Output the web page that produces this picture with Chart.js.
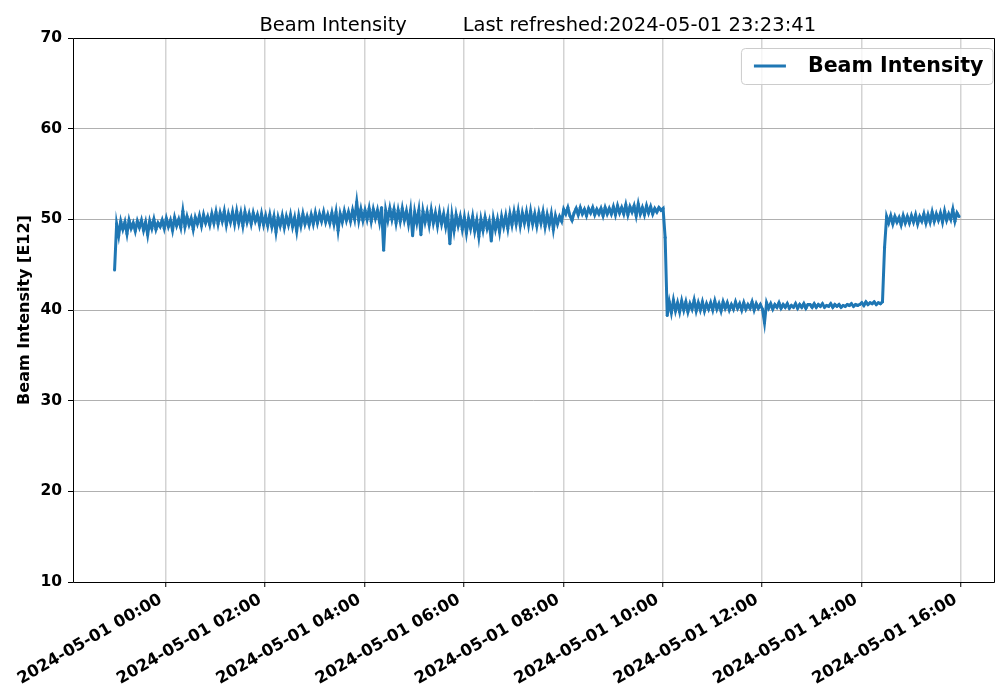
<!DOCTYPE html>
<html>
<head>
<meta charset="utf-8">
<script src="https://cdn.jsdelivr.net/npm/chart.js@4.4.0/dist/chart.umd.min.js"></script>
<style>
  body { margin: 0; background: #fff; }
  #grafico { display: block; }
</style>
</head>
<body>
<canvas id="grafico" width="996" height="687"></canvas>
<script>
// hours relative to 2024-05-01 00:00, samples every 2.5 min starting 2024-04-30 22:58
const startHour = -62 / 60;
const stepMinutes = 2.5;
const tickHours = [0, 2, 4, 6, 8, 10, 12, 14, 16];
const yTicks = [10, 20, 30, 40, 50, 60, 70];

// one row per hour (24 samples)
const beamIntensity = [
  44.4, 49.5, 48.2, 49.8, 48.9, 49.7, 48.4, 49.9, 49.0, 49.6, 48.7, 49.8, 49.1, 49.9, 48.8, 49.7, 48.3, 49.8, 49.0, 50.0, 48.9, 49.6, 49.2, 49.9,
  49.0, 50.1, 49.2, 49.9, 48.8, 50.2, 49.3, 50.0, 49.1, 50.9, 49.2, 50.3, 49.4, 50.1, 48.9, 50.2, 49.5, 50.4, 49.3, 50.5, 49.6, 50.3, 49.4, 50.6,
  49.6, 50.8, 49.5, 50.7, 49.8, 50.9, 49.4, 50.6, 49.7, 50.8, 49.5, 50.9, 49.6, 50.7, 49.3, 50.8, 49.7, 50.6, 49.5, 50.7, 49.8, 50.5, 49.4, 50.6,
  49.4, 50.4, 49.3, 50.5, 49.2, 50.3, 48.6, 50.2, 49.3, 50.4, 49.1, 50.3, 49.4, 50.5, 49.2, 50.2, 48.7, 50.4, 49.3, 50.6, 49.5, 50.3, 49.4, 50.5,
  49.5, 50.7, 49.6, 50.6, 49.8, 50.8, 49.7, 50.5, 49.6, 50.7, 49.5, 50.8, 48.8, 50.6, 49.7, 50.9, 49.9, 50.8, 49.8, 51.0, 50.0, 51.9, 49.9, 51.1,
  49.9, 51.0, 50.0, 51.2, 49.8, 51.1, 50.1, 51.0, 49.7, 51.3, 46.6, 51.0, 49.9, 51.2, 50.0, 51.1, 49.6, 51.0, 49.8, 51.2, 49.9, 50.9, 49.5, 51.0,
  48.2, 50.8, 49.6, 51.0, 48.3, 50.9, 49.7, 50.8, 49.4, 51.0, 49.6, 50.7, 49.3, 50.8, 49.5, 50.6, 49.2, 50.5, 47.3, 50.4, 48.8, 50.5, 49.3, 50.3,
  48.9, 50.2, 48.5, 50.1, 49.0, 50.3, 48.7, 49.9, 48.1, 50.0, 48.8, 50.2, 49.0, 49.8, 47.6, 50.1, 48.9, 50.0, 48.6, 50.3, 49.2, 50.4, 49.0, 50.6,
  49.4, 50.8, 49.5, 50.9, 49.3, 50.7, 49.6, 50.8, 49.4, 50.9, 49.5, 50.6, 49.3, 50.7, 49.6, 50.8, 49.2, 50.5, 49.4, 50.6, 48.9, 50.4, 49.5, 50.3,
  49.8, 51.1, 50.6, 51.3, 50.4, 49.9, 50.7, 51.2, 50.5, 51.3, 50.6, 51.1, 50.4, 51.2, 50.7, 51.3, 50.5, 51.1, 50.6, 51.2, 50.4, 51.3, 50.6, 51.2,
  50.6, 51.4, 50.5, 51.5, 50.7, 51.3, 50.6, 51.6, 50.5, 51.4, 50.8, 51.5, 50.4, 51.7, 50.6, 51.3, 50.5, 51.5, 50.7, 51.4, 50.6, 51.2, 50.8, 51.3,
  51.0, 51.2, 48.0, 39.4, 40.9, 39.7, 41.1, 39.9, 40.8, 39.8, 41.0, 40.0, 40.9, 39.8, 40.7, 40.1, 41.1, 39.9, 40.8, 40.0, 40.9, 39.9, 40.7, 40.1,
  40.8, 40.0, 41.0, 40.1, 40.7, 39.9, 40.9, 40.2, 40.8, 40.0, 40.6, 40.1, 40.9, 40.2, 40.7, 40.0, 40.8, 40.1, 40.6, 40.2, 40.9, 40.0, 40.7, 40.2,
  40.6, 40.1, 38.6, 40.8, 40.2, 40.7, 40.1, 40.6, 40.3, 40.8, 40.2, 40.6, 40.3, 40.7, 40.2, 40.5, 40.3, 40.7, 40.2, 40.6, 40.3, 40.7, 40.2, 40.6,
  40.6, 40.3, 40.7, 40.3, 40.6, 40.4, 40.7, 40.3, 40.5, 40.4, 40.7, 40.3, 40.6, 40.4, 40.6, 40.3, 40.5, 40.4, 40.6, 40.5, 40.7, 40.4, 40.6, 40.5,
  40.6, 40.8, 40.5, 40.9, 40.6, 40.8, 40.7, 40.9, 40.6, 40.8, 40.7, 40.9, 46.9, 50.3, 49.6, 50.4, 49.5, 50.3, 49.7, 50.2, 49.4, 50.4, 49.6, 50.3,
  49.6, 50.4, 49.7, 50.5, 49.5, 50.3, 49.8, 50.6, 49.6, 50.5, 49.7, 50.8, 49.8, 50.6, 49.9, 50.7, 49.7, 50.9, 49.9, 50.6, 50.0, 51.1, 49.8, 50.7,
  50.3
];

const titleText = 'Beam Intensity         Last refreshed:2024-05-01 23:23:41';
const seriesLabel = 'Beam Intensity';
const lineColor = '#1f77b4';
const fonte = 'DejaVu Sans';

const pontos = beamIntensity.map((v, i) => ({ x: startHour + i * stepMinutes / 60, y: v }));

function rotuloHora(h) {
  const dia = h < 0 ? '2024-04-30' : '2024-05-01';
  const hh = ((h % 24) + 24) % 24;
  return dia + ' ' + String(hh).padStart(2, '0') + ':00';
}

const molduraELegenda = {
  id: 'molduraELegenda',
  afterDraw(chart) {
    const ctx = chart.ctx;
    const a = chart.chartArea;
    const l = Math.round(a.left) + 0.5, r = Math.round(a.right) - 0.5;
    const t = Math.round(a.top) + 0.5, b = Math.round(a.bottom) + 0.5;
    ctx.save();
    ctx.strokeStyle = '#000';
    ctx.lineWidth = 1;
    ctx.beginPath();
    ctx.moveTo(l, t); ctx.lineTo(r, t); ctx.lineTo(r, b); ctx.lineTo(l, b); ctx.closePath();
    ctx.stroke();

    // title centred over the axes
    ctx.fillStyle = '#000';
    ctx.font = '19.5px "' + fonte + '"';
    ctx.textAlign = 'center';
    ctx.textBaseline = 'alphabetic';
    ctx.fillText(titleText, (a.left + a.right) / 2 + 4, 31);

    // legend box
    ctx.textAlign = 'left';
    ctx.font = 'bold 20.6px "' + fonte + '"';
    const tw = ctx.measureText(seriesLabel).width;
    const w = 13 + 32 + 22 + tw + 9;
    const h = 36;
    const x = a.right - 2 - w;
    const y = a.top + 10;
    ctx.beginPath();
    ctx.roundRect(x + 0.5, y + 0.5, w, h, 4);
    ctx.fillStyle = 'rgba(255,255,255,0.8)';
    ctx.fill();
    ctx.strokeStyle = '#cccccc';
    ctx.stroke();
    ctx.beginPath();
    ctx.moveTo(x + 13, y + h / 2);
    ctx.lineTo(x + 45, y + h / 2);
    ctx.strokeStyle = lineColor;
    ctx.lineWidth = 3;
    ctx.stroke();
    ctx.fillStyle = '#000';
    ctx.textBaseline = 'middle';
    ctx.fillText(seriesLabel, x + 67, y + h / 2 + 1);
    ctx.restore();
  }
};

const ctx = document.getElementById('grafico').getContext('2d');
new Chart(ctx, {
  type: 'line',
  data: {
    datasets: [{
      label: seriesLabel,
      data: pontos,
      borderColor: lineColor,
      backgroundColor: lineColor,
      borderWidth: 3,
      pointRadius: 1.5,
      pointBorderWidth: 0,
      pointHoverRadius: 0,
      tension: 0
    }]
  },
  options: {
    responsive: false,
    animation: false,
    devicePixelRatio: 1,
    layout: { padding: { left: 0, right: 1, top: 38, bottom: 0 } },
    plugins: {
      legend: { display: false },
      tooltip: { enabled: false },
      title: { display: false }
    },
    scales: {
      x: {
        type: 'linear',
        min: -1.87,
        max: 16.68,
        afterBuildTicks: scale => { scale.ticks = tickHours.map(v => ({ value: v })); },
        afterFit: scale => { scale.height = 105; scale.paddingLeft = 0; scale.paddingRight = 0; },
        border: { display: false },
        grid: { color: '#d3d3d3', lineWidth: 1.5, tickColor: '#000', tickWidth: 1, tickLength: 5 },
        ticks: {
          color: '#000',
          font: { family: fonte, size: 16.5, weight: 'bold' },
          minRotation: 30,
          maxRotation: 30,
          padding: 3,
          labelOffset: -5,
          callback: v => rotuloHora(v)
        }
      },
      y: {
        min: 10,
        max: 70,
        afterBuildTicks: scale => { scale.ticks = yTicks.map(v => ({ value: v })); },
        afterFit: scale => { scale.width = 73; scale.paddingTop = 0; scale.paddingBottom = 0; },
        border: { display: false },
        grid: { color: '#b0b0b0', lineWidth: 1, tickColor: '#000', tickWidth: 1, tickLength: 5 },
        ticks: {
          color: '#000',
          font: { family: fonte, size: 15.5, weight: 'bold' },
          padding: 6
        },
        title: {
          display: true,
          text: 'Beam Intensity [E12]',
          color: '#000',
          font: { family: fonte, size: 16, weight: 'bold' },
          padding: { top: 15, bottom: 0 }
        }
      }
    }
  },
  plugins: [molduraELegenda]
});
</script>
</body>
</html>
